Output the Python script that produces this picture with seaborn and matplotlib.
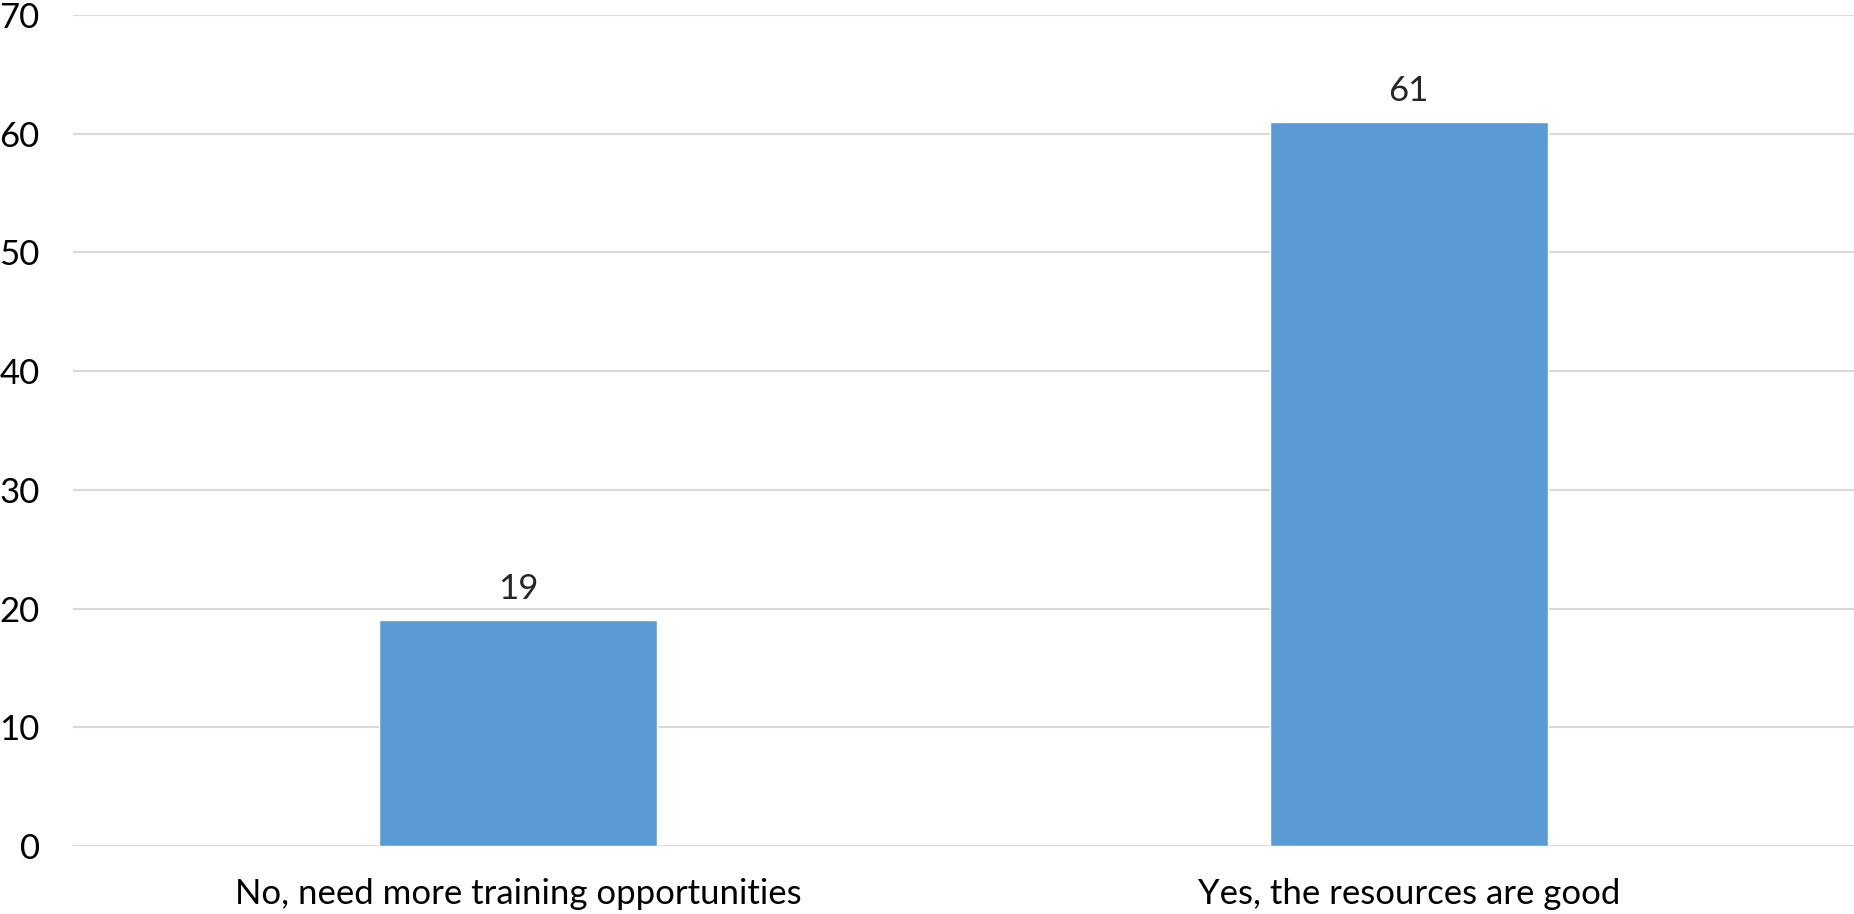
import seaborn as sns
import matplotlib.pyplot as plt

# data
categories = ["No, need more training opportunities", "Yes, the resources are good"]
counts = [19, 61]
yticks = [0, 10, 20, 30, 40, 50, 60, 70]

sns.set_theme(style="white")
plt.rcParams['font.family'] = ['Lato', 'DejaVu Sans']

fig = plt.figure(figsize=(18.54, 9.14), dpi=100)
ax = fig.add_axes([73 / 1854, 68 / 914, 1 - 73 / 1854, 831 / 914])

sns.barplot(x=categories, y=counts, color="#5b9bd5", width=0.312, saturation=1, ax=ax, zorder=3)

ax.set_ylim(0, 70)
ax.set_xlim(-0.5, 1.5)
ax.set_yticks(yticks)
ax.yaxis.grid(True, color="#d9d9d9", linewidth=1.5, zorder=0)
ax.set_axisbelow(True)
sns.despine(ax=ax, left=True, bottom=True, top=True, right=True)
ax.tick_params(axis="both", length=0, labelsize=25, colors="black")
ax.tick_params(axis="y", pad=24)
ax.tick_params(axis="x", pad=23)
ax.set_xlabel("")
ax.set_ylabel("")

for c in ax.containers:
    ax.bar_label(c, labels=[str(v) for v in counts], padding=11, fontsize=25)

fig.savefig("out.png", dpi=100)
